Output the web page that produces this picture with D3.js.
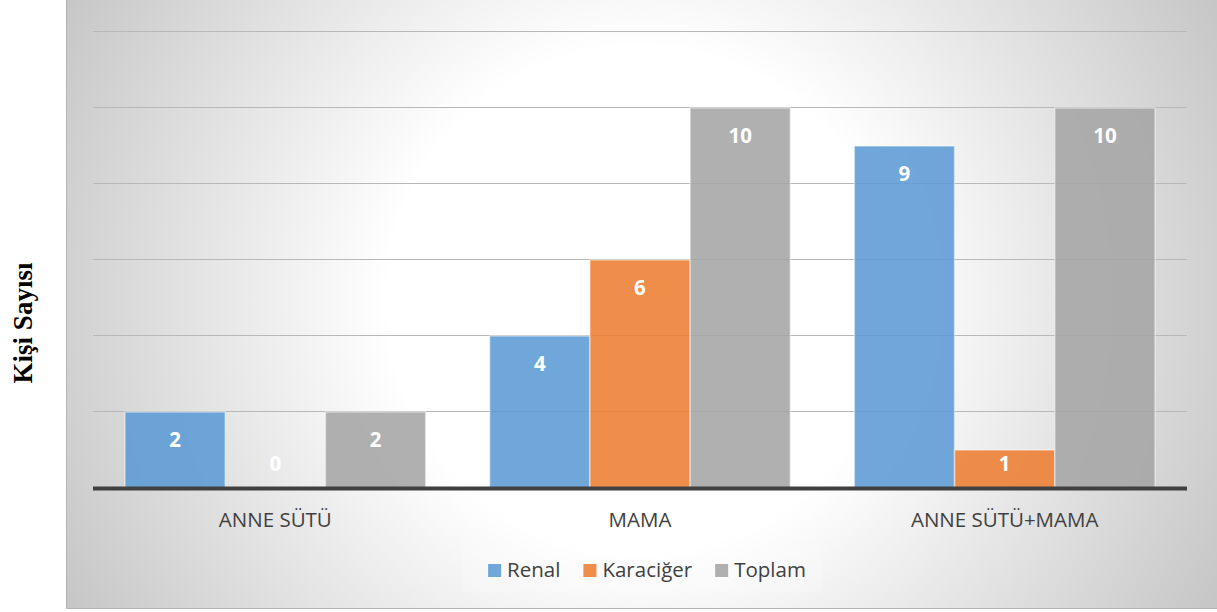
<!DOCTYPE html>
<html>
<head>
<meta charset="utf-8">
<script src="https://cdn.jsdelivr.net/npm/d3@7"></script>
<style>
  body { margin: 0; background: #fff; }
  svg { display: block; }
</style>
</head>
<body>
<div id="chart"></div>
<script>
// data
const categories = ["ANNE SÜTÜ", "MAMA", "ANNE SÜTÜ+MAMA"];
const series = ["Renal", "Karaciğer", "Toplam"];
const renal = [2, 4, 9];
const karaciger = [0, 6, 1];
const toplam = [2, 10, 10];
const yTicks = [0, 2, 4, 6, 8, 10, 12];
const yTitle = "Kişi Sayısı";

const colors = ["#5B9BD5", "#ED7D31", "#A5A5A5"];
const values = [renal, karaciger, toplam];

const W = 1217, H = 612;
const plot = { left: 93, right: 1187, top: 32, bottom: 488 };

const svg = d3.select("#chart").append("svg")
  .attr("width", W)
  .attr("height", H);

// background panel with radial gradient
const defs = svg.append("defs");
const grad = defs.append("radialGradient")
  .attr("id", "bg")
  .attr("gradientUnits", "userSpaceOnUse")
  .attr("cx", 640).attr("cy", 300).attr("r", 700);
grad.append("stop").attr("offset", 0).attr("stop-color", "#ffffff");
grad.append("stop").attr("offset", 0.36).attr("stop-color", "#ffffff");
grad.append("stop").attr("offset", 1).attr("stop-color", "#bfbfbf");

svg.append("rect")
  .attr("x", 66).attr("y", 0)
  .attr("width", W - 66).attr("height", 608)
  .attr("fill", "url(#bg)");
svg.append("path")
  .attr("d", `M66.5,0V608.5H${W}`)
  .attr("fill", "none")
  .attr("stroke", "#b4b4b4")
  .attr("stroke-width", 1);

// scales
const x0 = d3.scaleBand()
  .domain(categories)
  .range([plot.left, plot.right]);

const x1 = d3.scaleBand()
  .domain(series)
  .range([32, x0.bandwidth() - 32]);

const y = d3.scaleLinear()
  .domain([0, 12])
  .range([plot.bottom, plot.top]);

// gridlines
svg.append("g")
  .selectAll("line")
  .data(yTicks.filter(d => d > 0))
  .join("line")
  .attr("x1", plot.left).attr("x2", plot.right)
  .attr("y1", d => Math.round(y(d)) - 0.5)
  .attr("y2", d => Math.round(y(d)) - 0.5)
  .attr("stroke", "#b8b8b8")
  .attr("stroke-width", 1.2);

// bars
const groups = svg.append("g")
  .selectAll("g")
  .data(categories)
  .join("g")
  .attr("transform", d => `translate(${x0(d)},0)`);

const cells = groups.selectAll("g")
  .data((c, ci) => series.map((s, si) => ({ s, si, v: values[si][ci] })))
  .join("g");

cells.append("rect")
  .attr("x", d => x1(d.s))
  .attr("y", d => y(d.v))
  .attr("width", x1.bandwidth())
  .attr("height", d => y(0) - y(d.v))
  .attr("fill", d => colors[d.si])
  .attr("fill-opacity", 0.88)
  .attr("stroke", "#ffffff")
  .attr("stroke-opacity", 0.45)
  .attr("stroke-width", 1.5);

// data labels (inside end, kept above the axis)
cells.append("text")
  .attr("x", d => x1(d.s) + x1.bandwidth() / 2)
  .attr("y", d => Math.min(y(d.v) + 28, y(0) - 24.5))
  .attr("dy", "0.35em")
  .attr("text-anchor", "middle")
  .attr("font-family", "'Open Sans', sans-serif")
  .attr("font-weight", "bold")
  .attr("font-size", 20.5)
  .attr("fill", "#ffffff")
  .text(d => d.v);

// baseline
svg.append("line")
  .attr("x1", plot.left).attr("x2", plot.right)
  .attr("y1", y(0) + 0.5).attr("y2", y(0) + 0.5)
  .attr("stroke", "#404040")
  .attr("stroke-width", 4);

// category axis labels
svg.append("g")
  .attr("transform", `translate(0,${plot.bottom})`)
  .call(d3.axisBottom(x0).tickSize(0).tickPadding(0))
  .call(g => g.select(".domain").remove())
  .selectAll("text")
  .attr("y", 39)
  .attr("dy", 0)
  .attr("font-family", "'Open Sans', sans-serif")
  .attr("font-size", 20.5)
  .attr("fill", "#404040");

// y axis title
svg.append("text")
  .attr("transform", "translate(32,323) rotate(-90)")
  .attr("text-anchor", "middle")
  .attr("font-family", "'Liberation Serif', 'Times New Roman', serif")
  .attr("font-weight", "bold")
  .attr("font-size", 27)
  .attr("fill", "#000")
  .text(yTitle);

// legend
svg.append("rect")
  .attr("x", 462).attr("y", 548)
  .attr("width", 360).attr("height", 44)
  .attr("fill", "#ffffff")
  .attr("fill-opacity", 0.2);

const legend = svg.append("g");
const items = legend.selectAll("g")
  .data(series)
  .join("g");
items.append("rect")
  .attr("width", 13).attr("height", 13)
  .attr("y", -13)
  .attr("fill", (d, i) => colors[i])
  .attr("fill-opacity", 0.88);
items.append("text")
  .attr("x", 19)
  .attr("y", 0)
  .attr("font-family", "'Open Sans', sans-serif")
  .attr("font-size", 20.5)
  .attr("fill", "#404040")
  .text(d => d);

let lx = 0;
items.each(function() {
  const w = 19 + this.querySelector("text").getComputedTextLength();
  d3.select(this).attr("transform", `translate(${lx},0)`);
  lx += w + 23;
});
const totalW = lx - 23;
legend.attr("transform", `translate(${647 - totalW / 2},577)`);
</script>
</body>
</html>
